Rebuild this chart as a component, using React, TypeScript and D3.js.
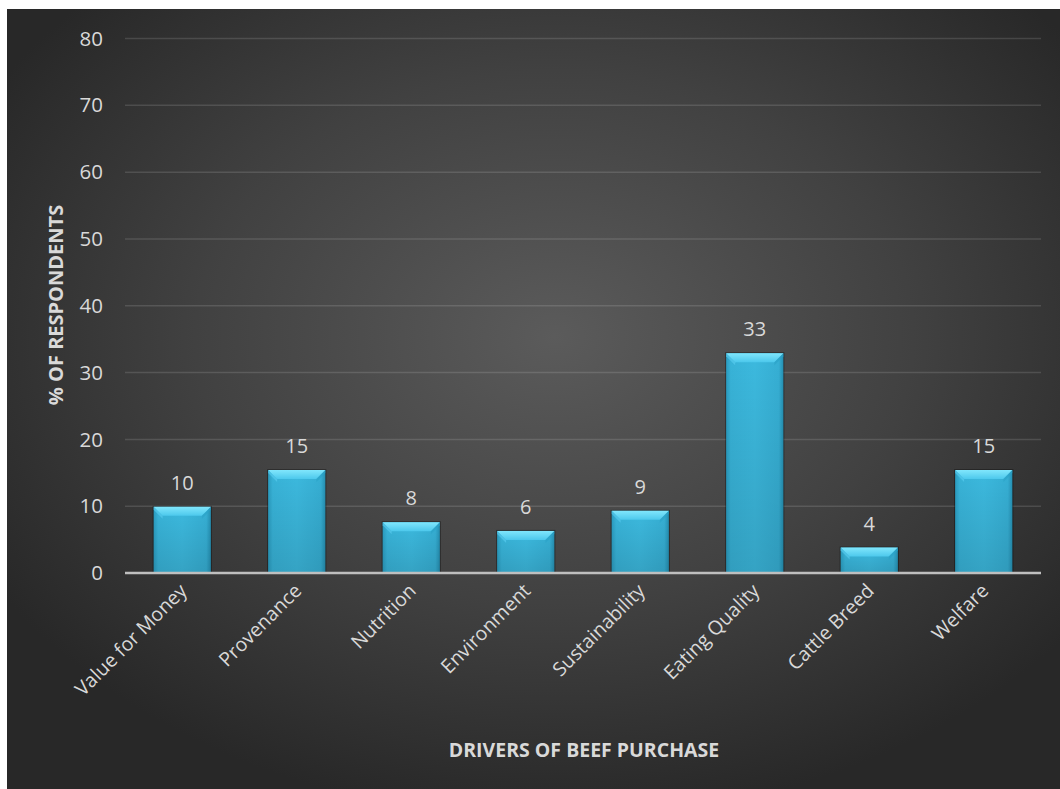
import React from "react";
import * as d3 from "d3";

const categories = ["Value for Money", "Provenance", "Nutrition", "Environment", "Sustainability", "Eating Quality", "Cattle Breed", "Welfare"];
const values = [9.9, 15.4, 7.6, 6.3, 9.3, 32.9, 3.8, 15.4];
const valueLabels = ["10", "15", "8", "6", "9", "33", "4", "15"];
const yTicks = [0, 10, 20, 30, 40, 50, 60, 70, 80];

const W = 1060;
const H = 789;
const FONT = "'Open Sans', 'Liberation Sans', sans-serif";

export default function App() {
  const plotLeft = 125;
  const plotRight = 1041;
  const x = d3.scaleBand<string>().domain(categories).range([plotLeft, plotRight]).paddingInner(0.5).paddingOuter(0.25);
  const y = d3.scaleLinear().domain([0, 80]).range([573, 38.5]);
  const bw = x.bandwidth();

  return (
    <svg width={W} height={H} style={{ position: "absolute", left: 0, top: 0 }}>
      <defs>
        <radialGradient id="bg" cx="0.52" cy="0.42" r="0.62">
          <stop offset="0" stopColor="#5b5b5b" />
          <stop offset="0.55" stopColor="#414141" />
          <stop offset="1" stopColor="#282828" />
        </radialGradient>
        <linearGradient id="barBody" x1="0" y1="0" x2="1" y2="0">
          <stop offset="0" stopColor="#2a9cc0" />
          <stop offset="0.08" stopColor="#38b3d8" />
          <stop offset="0.5" stopColor="#3cb9de" />
          <stop offset="0.92" stopColor="#36afd4" />
          <stop offset="1" stopColor="#2590b3" />
        </linearGradient>
        <linearGradient id="barTop" x1="0" y1="0" x2="0" y2="1">
          <stop offset="0" stopColor="#80e6fc" />
          <stop offset="1" stopColor="#4cc8ec" />
        </linearGradient>
        <linearGradient id="barShade" x1="0" y1="0" x2="0" y2="1">
          <stop offset="0" stopColor="#000" stopOpacity="0" />
          <stop offset="1" stopColor="#000" stopOpacity="0.12" />
        </linearGradient>
      </defs>
      <rect x={0} y={0} width={W} height={H} fill="#ffffff" />
      <rect x={7} y={9} width={W - 7} height={H - 9} fill="url(#bg)" />

      {yTicks.filter((t) => t > 0).map((t) => (
        <line key={"g" + t} x1={plotLeft} x2={plotRight} y1={y(t)} y2={y(t)} stroke="#ffffff" strokeOpacity={0.13} strokeWidth={1.5} />
      ))}
      {yTicks.map((t) => (
        <text key={"t" + t} x={103} y={y(t)} dy="0.35em" textAnchor="end" fill="#d9d9d9" fontSize={20.5} fontFamily={FONT}>
          {t}
        </text>
      ))}

      {categories.map((c, i) => {
        const x0 = x(c)!;
        const x1 = x0 + bw;
        const y0 = y(values[i]);
        const y1 = y(0);
        const b = Math.min(9, (y1 - y0) / 2);
        return (
          <g key={c}>
            <rect x={x0 - 1} y={y0 - 1} width={bw + 2} height={y1 - y0 + 1} fill="#000" opacity={0.35} />
            <rect x={x0} y={y0} width={bw} height={y1 - y0} fill="url(#barBody)" />
            <rect x={x0} y={y0} width={bw} height={y1 - y0} fill="url(#barShade)" />
            <polygon points={`${x0},${y0} ${x1},${y0} ${x1 - b},${y0 + b} ${x0 + b},${y0 + b}`} fill="url(#barTop)" />
            <polygon points={`${x0},${y0} ${x0 + b},${y0 + b} ${x0 + b},${y0 + b + 3} ${x0},${y0 + 3}`} fill="#5ccff1" opacity={0.6} />
            <polygon points={`${x1},${y0} ${x1 - b},${y0 + b} ${x1 - b},${y0 + b + 3} ${x1},${y0 + 3}`} fill="#2aa1c6" opacity={0.6} />
            <text x={x0 + bw / 2} y={y0 - 17} textAnchor="middle" fill="#d9d9d9" fontSize={20} fontFamily={FONT}>
              {valueLabels[i]}
            </text>
          </g>
        );
      })}

      <line x1={plotLeft} x2={plotRight} y1={y(0)} y2={y(0)} stroke="#bfbfbf" strokeWidth={2.5} />

      {categories.map((c) => {
        const cx = x(c)! + bw / 2 + 6;
        const cy = y(0) + 19;
        return (
          <text key={"l" + c} transform={`translate(${cx},${cy}) rotate(-45)`} textAnchor="end" fill="#d9d9d9" fontSize={19.5} fontFamily={FONT}>
            {c}
          </text>
        );
      })}

      <text transform={`translate(63,305) rotate(-90)`} textAnchor="middle" fill="#d9d9d9" fontSize={20} fontWeight="bold" fontFamily={FONT}>
        % OF RESPONDENTS
      </text>
      <text x={584} y={757} textAnchor="middle" fill="#d9d9d9" fontSize={19.5} fontWeight="bold" fontFamily={FONT}>
        DRIVERS OF BEEF PURCHASE
      </text>
    </svg>
  );
}
